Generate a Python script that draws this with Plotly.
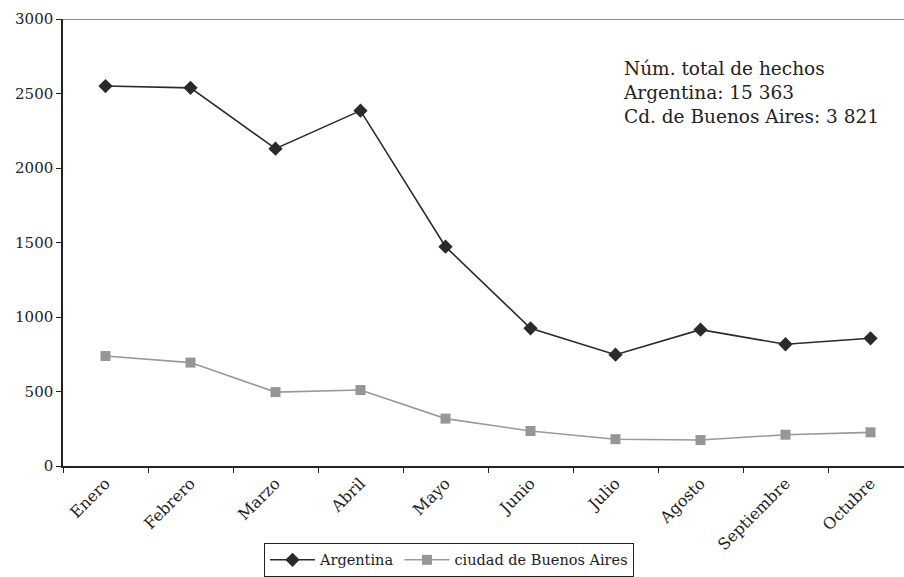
import plotly.graph_objects as go

meses = ["Enero", "Febrero", "Marzo", "Abril", "Mayo", "Junio",
         "Julio", "Agosto", "Septiembre", "Octubre"]
argentina = [2550, 2538, 2130, 2385, 1472, 924, 747, 915, 817, 857]
buenos_aires = [738, 694, 496, 510, 318, 235, 180, 174, 210, 226]

serif = "DejaVu Serif"

fig = go.Figure()
fig.add_trace(go.Scatter(
    x=meses, y=argentina, name="Argentina", mode="lines+markers",
    line=dict(color="#2a2a2a", width=1.6),
    marker=dict(symbol="diamond", size=11, color="#2a2a2a"),
))
fig.add_trace(go.Scatter(
    x=meses, y=buenos_aires, name="ciudad de Buenos Aires", mode="lines+markers",
    line=dict(color="#999999", width=1.6),
    marker=dict(symbol="square", size=10, color="#969696"),
))

fig.update_layout(
    width=904, height=577,
    margin=dict(l=63, r=0, t=19, b=111),
    paper_bgcolor="white", plot_bgcolor="white",
    font=dict(family=serif, size=15, color="#222222"),
    showlegend=True,
    legend=dict(
        orientation="h", x=0.459, xanchor="center", y=-0.172, yanchor="top",
        bordercolor="#222222", borderwidth=1, font=dict(family=serif, size=14.5),
        itemwidth=45, tracegroupgap=0,
    ),
    xaxis=dict(
        type="category", range=[-0.5, 9.394], tickson="boundaries",
        showline=True, linecolor="#222222", linewidth=1.5,
        ticks="outside", ticklen=5, tickcolor="#222222",
        tickangle=-45, tickfont=dict(family=serif, size=16),
        showgrid=False, zeroline=False,
    ),
    yaxis=dict(
        range=[0, 3000], tickvals=[0, 500, 1000, 1500, 2000, 2500, 3000],
        showline=True, linecolor="#222222", linewidth=1.5,
        ticks="outside", ticklen=5, tickcolor="#222222",
        tickfont=dict(family=serif, size=15), showgrid=False, zeroline=False,
    ),
    shapes=[dict(type="line", xref="paper", yref="y", x0=0, x1=1, y0=3000, y1=3000,
                 line=dict(color="#8c8c8c", width=2))],
    annotations=[dict(
        xref="paper", yref="paper", x=0.664, y=0.918, xanchor="left", yanchor="top",
        align="left", showarrow=False,
        text="Núm. total de hechos<br>Argentina: 15 363<br>Cd. de Buenos Aires: 3 821",
        font=dict(size=18.5, family=serif, color="#222222"),
    )],
)

fig.write_html("out.html")
